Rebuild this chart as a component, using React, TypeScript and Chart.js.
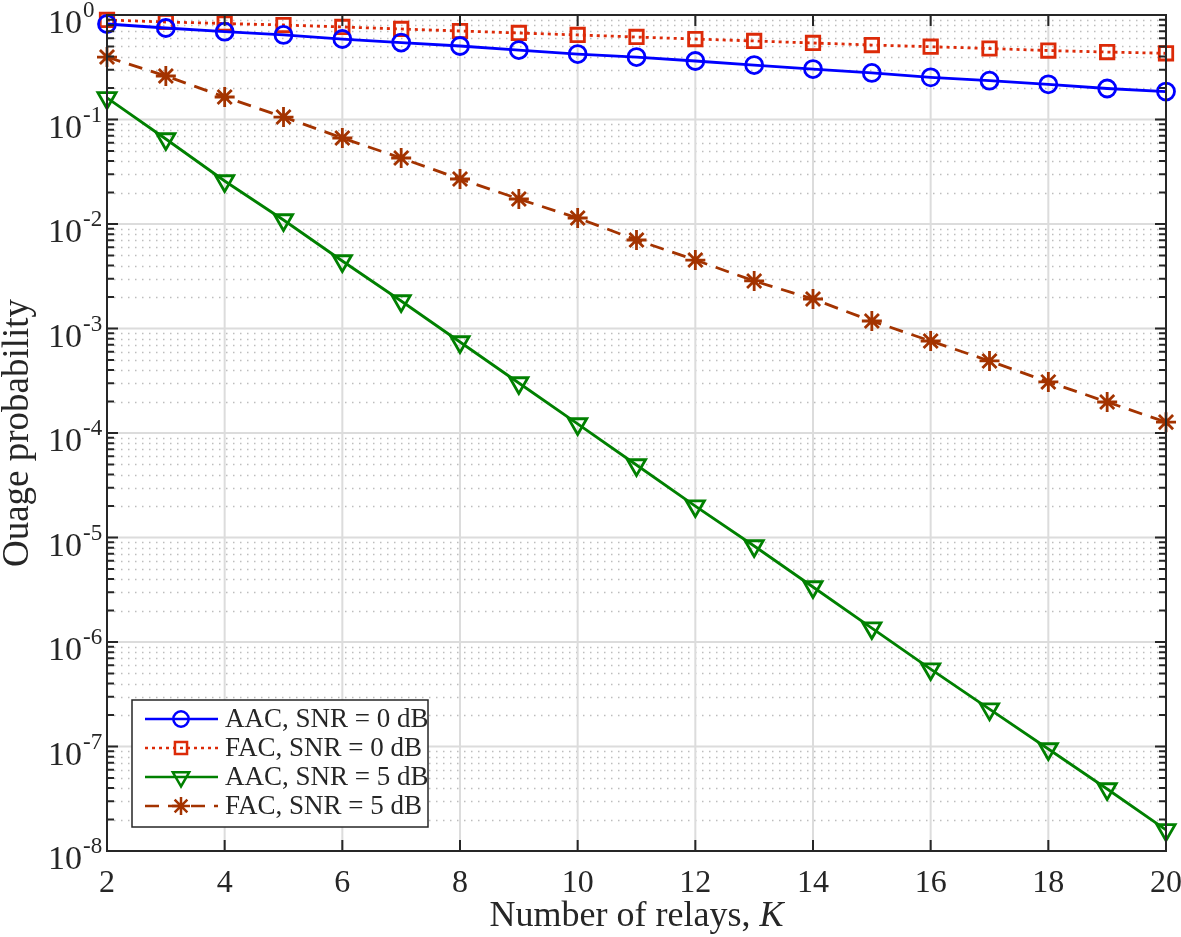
import React, { useEffect, useRef } from "react";
import { Chart, registerables } from "chart.js";

Chart.register(...registerables);

// ---------- data ----------
const relaysK = [2, 3, 4, 5, 6, 7, 8, 9, 10, 11, 12, 13, 14, 15, 16, 17, 18, 19, 20];
const aacSnr0 = [0.82, 0.751, 0.692, 0.644, 0.589, 0.545, 0.505, 0.462, 0.423, 0.396, 0.363, 0.332, 0.304, 0.279, 0.253, 0.235, 0.217, 0.198, 0.185];
const facSnr0 = [0.896, 0.857, 0.829, 0.802, 0.768, 0.735, 0.703, 0.673, 0.644, 0.616, 0.589, 0.564, 0.54, 0.516, 0.497, 0.478, 0.457, 0.442, 0.43];
const aacSnr5 = [0.1607, 0.0651, 0.02579, 0.01092, 0.004426, 0.001833, 7.43e-4, 3.01e-4, 1.22e-4, 4.94e-5, 2.0e-5, 8.29e-6, 3.36e-6, 1.36e-6, 5.51e-7, 2.28e-7, 9.46e-8, 3.92e-8, 1.59e-8];
const facSnr5 = [0.396, 0.2608, 0.1641, 0.1056, 0.0665, 0.0428, 0.02695, 0.01735, 0.01141, 0.00703, 0.00452, 0.00285, 0.001915, 0.00118, 7.59e-4, 4.89e-4, 3.08e-4, 1.98e-4, 1.27e-4];
const xTickValues = [2, 4, 6, 8, 10, 12, 14, 16, 18, 20];
const yDecadeExponents = [0, -1, -2, -3, -4, -5, -6, -7, -8];
const seriesLabels = ["AAC, SNR = 0 dB", "FAC, SNR = 0 dB", "AAC, SNR = 5 dB", "FAC, SNR = 5 dB"];
const xTitle = "Number of relays, ";
const xTitleItalic = "K";
const yTitle = "Ouage probability";

// ---------- styles ----------
const FONT = "'Liberation Serif', 'Times New Roman', serif";
const TEXT = "#262626";
const styles = [
  { color: "#0000ff", dash: [] as number[], point: "circle", radius: 8.5, rot: 0 },
  { color: "#dc2a08", dash: [3, 4], point: "rect", radius: 9.5, rot: 0 },
  { color: "#008000", dash: [] as number[], point: "triangle", radius: 10.5, rot: 180 },
  { color: "#a33300", dash: [14, 9], point: "star", radius: 10, rot: 0 },
];
const seriesData = [aacSnr0, facSnr0, aacSnr5, facSnr5];

function drawMarker(ctx: CanvasRenderingContext2D, style: string, x: number, y: number, r: number) {
  ctx.beginPath();
  if (style === "circle") {
    ctx.arc(x, y, r, 0, Math.PI * 2);
  } else if (style === "rect") {
    const s = Math.SQRT1_2 * r;
    ctx.rect(x - s, y - s, 2 * s, 2 * s);
  } else if (style === "triangle") {
    let a = Math.PI;
    ctx.moveTo(x + Math.sin(a) * r, y - Math.cos(a) * r);
    a += (2 * Math.PI) / 3;
    ctx.lineTo(x + Math.sin(a) * r, y - Math.cos(a) * r);
    a += (2 * Math.PI) / 3;
    ctx.lineTo(x + Math.sin(a) * r, y - Math.cos(a) * r);
    ctx.closePath();
  } else if (style === "star") {
    const d = Math.SQRT1_2 * r;
    ctx.moveTo(x, y - r); ctx.lineTo(x, y + r);
    ctx.moveTo(x - r, y); ctx.lineTo(x + r, y);
    ctx.moveTo(x - d, y - d); ctx.lineTo(x + d, y + d);
    ctx.moveTo(x - d, y + d); ctx.lineTo(x + d, y - d);
  }
  ctx.stroke();
}

const decorPlugin = {
  id: "decor",
  beforeDatasetsDraw(chart: any) {
    const { ctx, chartArea: a, scales } = chart;
    const xs = scales.x, ys = scales.y;
    ctx.save();
    ctx.strokeStyle = "#bdbdbd";
    ctx.lineWidth = 1.5;
    ctx.setLineDash([1.5, 5.5]);
    for (const e of yDecadeExponents) {
      if (e === 0) continue;
      for (let m = 2; m <= 9; m++) {
        const y = Math.round(ys.getPixelForValue(m * Math.pow(10, e))) + 0.5;
        ctx.beginPath(); ctx.moveTo(a.left, y); ctx.lineTo(a.right, y); ctx.stroke();
      }
    }
    ctx.setLineDash([]);
    ctx.strokeStyle = "#dcdcdc";
    ctx.lineWidth = 2;
    for (const v of xTickValues) {
      const x = xs.getPixelForValue(v);
      ctx.beginPath(); ctx.moveTo(x, a.top); ctx.lineTo(x, a.bottom); ctx.stroke();
    }
    for (const e of yDecadeExponents) {
      const y = ys.getPixelForValue(Math.pow(10, e));
      ctx.beginPath(); ctx.moveTo(a.left, y); ctx.lineTo(a.right, y); ctx.stroke();
    }
    ctx.restore();
  },
  afterDatasetsDraw(chart: any) {
    const { ctx, chartArea: a, scales } = chart;
    const xs = scales.x, ys = scales.y;
    ctx.save();
    ctx.strokeStyle = TEXT;
    ctx.lineWidth = 2;
    ctx.setLineDash([]);
    for (const e of yDecadeExponents) {
      const y = ys.getPixelForValue(Math.pow(10, e));
      ctx.beginPath();
      ctx.moveTo(a.left, y); ctx.lineTo(a.left + 11, y);
      ctx.moveTo(a.right, y); ctx.lineTo(a.right - 11, y);
      ctx.stroke();
      if (e === 0) continue;
      for (let m = 2; m <= 9; m++) {
        const ym = ys.getPixelForValue(m * Math.pow(10, e));
        ctx.beginPath();
        ctx.moveTo(a.left, ym); ctx.lineTo(a.left + 7, ym);
        ctx.moveTo(a.right, ym); ctx.lineTo(a.right - 7, ym);
        ctx.stroke();
      }
    }
    for (const v of xTickValues) {
      const x = xs.getPixelForValue(v);
      ctx.beginPath();
      ctx.moveTo(x, a.bottom); ctx.lineTo(x, a.bottom - 11);
      ctx.moveTo(x, a.top); ctx.lineTo(x, a.top + 11);
      ctx.stroke();
    }
    ctx.strokeRect(a.left, a.top, a.right - a.left, a.bottom - a.top);

    // x tick labels
    ctx.fillStyle = TEXT;
    ctx.font = `32px ${FONT}`;
    ctx.textAlign = "center";
    ctx.textBaseline = "alphabetic";
    for (const v of xTickValues) {
      ctx.fillText(String(v), xs.getPixelForValue(v), a.bottom + 41);
    }
    // y tick labels 10^e
    for (const e of yDecadeExponents) {
      const y = ys.getPixelForValue(Math.pow(10, e));
      ctx.font = `34px ${FONT}`;
      ctx.textAlign = "right";
      const baseX = 82;
      ctx.fillText("10", baseX, y + 18);
      ctx.font = `23px ${FONT}`;
      ctx.textAlign = "left";
      ctx.fillText(String(e), baseX + 1, y + 2);
    }
    // x title
    ctx.font = `36px ${FONT}`;
    const w1 = ctx.measureText(xTitle).width;
    ctx.font = `italic 36px ${FONT}`;
    const w2 = ctx.measureText(xTitleItalic).width;
    const cx = (a.left + a.right) / 2;
    const sx = cx - (w1 + w2) / 2;
    ctx.textAlign = "left";
    ctx.font = `36px ${FONT}`;
    ctx.fillText(xTitle, sx, 926);
    ctx.font = `italic 36px ${FONT}`;
    ctx.fillText(xTitleItalic, sx + w1, 926);
    // y title
    ctx.save();
    ctx.translate(28, (a.top + a.bottom) / 2);
    ctx.rotate(-Math.PI / 2);
    ctx.font = `37px ${FONT}`;
    ctx.textAlign = "center";
    ctx.fillText(yTitle, 0, 0);
    ctx.restore();

    // legend
    const lx = 132, ly = 700, lw = 296, lh = 127;
    ctx.fillStyle = "#ffffff";
    ctx.fillRect(lx, ly, lw, lh);
    ctx.strokeStyle = TEXT;
    ctx.lineWidth = 1.5;
    ctx.strokeRect(lx, ly, lw, lh);
    for (let i = 0; i < styles.length; i++) {
      const st = styles[i];
      const y = 719 + i * 29;
      ctx.strokeStyle = st.color;
      ctx.lineWidth = 2.5;
      ctx.setLineDash(st.dash);
      ctx.beginPath(); ctx.moveTo(145, y); ctx.lineTo(218, y); ctx.stroke();
      ctx.setLineDash([]);
      ctx.lineWidth = 2.5;
      drawMarker(ctx, st.point, 181, y, st.radius * 0.9);
      ctx.fillStyle = TEXT;
      ctx.font = `27px ${FONT}`;
      ctx.textAlign = "left";
      ctx.textBaseline = "middle";
      ctx.fillText(seriesLabels[i], 225, y + 1);
      ctx.textBaseline = "alphabetic";
    }
    ctx.restore();
  },
};

export default function App() {
  const ref = useRef<HTMLCanvasElement>(null);
  useEffect(() => {
    if (!ref.current) return;
    const chart = new Chart(ref.current, {
      type: "line",
      data: {
        datasets: seriesData.map((arr, i) => ({
          label: seriesLabels[i],
          data: relaysK.map((k, j) => ({ x: k, y: arr[j] })),
          borderColor: styles[i].color,
          backgroundColor: "rgba(0,0,0,0)",
          borderWidth: 2.8,
          borderDash: styles[i].dash,
          pointStyle: styles[i].point as any,
          pointRadius: styles[i].radius,
          pointRotation: styles[i].rot,
          pointBorderColor: styles[i].color,
          pointBackgroundColor: "rgba(0,0,0,0)",
          pointBorderWidth: 2.8,
          tension: 0,
          clip: false as any,
        })),
      },
      options: {
        animation: false,
        responsive: false,
        layout: { padding: { top: 15, right: 15, left: 0, bottom: 0 } },
        plugins: { legend: { display: false }, tooltip: { enabled: false } },
        scales: {
          x: {
            type: "linear",
            min: 2,
            max: 20,
            ticks: { display: false },
            grid: { display: false },
            border: { display: false },
            afterFit: (s: any) => { s.height = 86; },
          },
          y: {
            type: "logarithmic",
            min: 1e-8,
            max: 1,
            ticks: { display: false },
            grid: { display: false },
            border: { display: false },
            afterFit: (s: any) => { s.width = 107; },
          },
        },
      },
      plugins: [decorPlugin],
    });
    return () => chart.destroy();
  }, []);
  return (
    <div style={{ position: "absolute", left: 0, top: 0, width: 1181, height: 937, background: "#fff" }}>
      <canvas ref={ref} width={1181} height={937} style={{ width: 1181, height: 937, display: "block" }} />
    </div>
  );
}
